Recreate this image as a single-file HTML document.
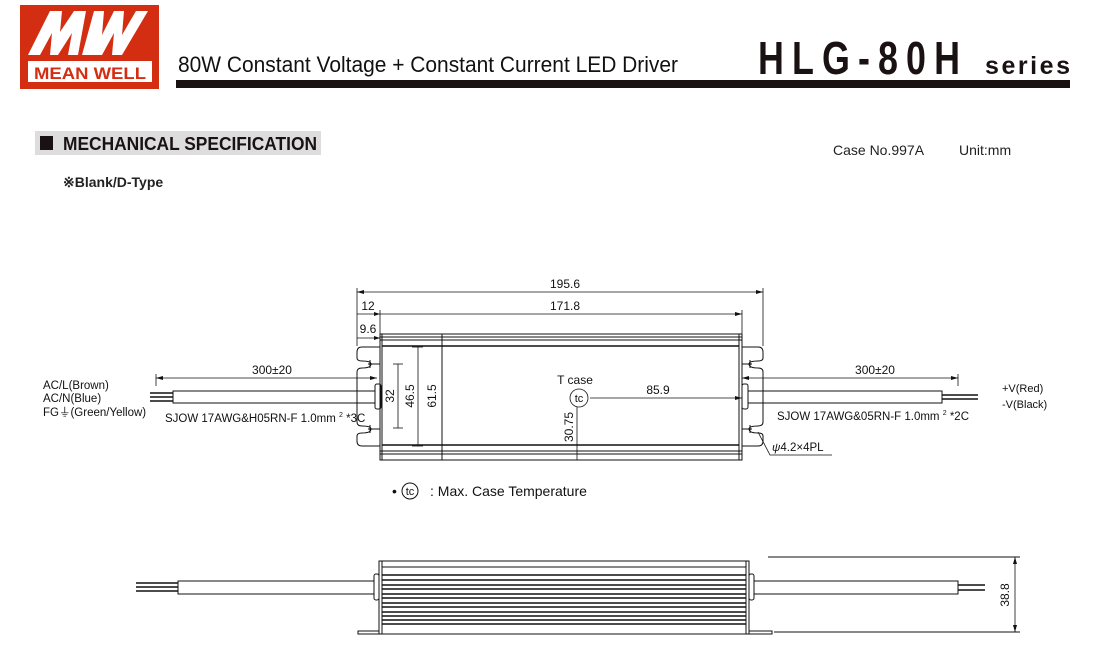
<!DOCTYPE html>
<html><head><meta charset="utf-8"><style>
html,body{margin:0;padding:0;background:#fff;}
svg{display:block;font-family:"Liberation Sans",sans-serif;}
</style></head><body>
<svg width="1100" height="655" viewBox="0 0 1100 655" xmlns="http://www.w3.org/2000/svg">
<!-- Logo -->
<rect x="20" y="5" width="139" height="84" fill="#d42e12"/>
<rect x="28" y="61" width="124" height="21" fill="#fff"/>
<text x="90" y="79" font-size="17" font-weight="bold" fill="#d42e12" text-anchor="middle" textLength="112" lengthAdjust="spacingAndGlyphs">MEAN WELL</text>
<path d="M28 55 L50 11 L62 11 L60 32 L74 11 L86 11 L78 55 L68 55 L72 33 L58 55 L50 55 L52 33 L40 55 Z" fill="#fff"/>
<path d="M82 55 L94 11 L104 11 L102 35 L114 11 L124 11 L122 35 L136 11 L148 11 L122 55 L112 55 L114 33 L102 55 L90 55 Z" fill="#fff"/>
<!-- Title -->
<text x="178" y="72" font-size="22" fill="#111" textLength="500" lengthAdjust="spacingAndGlyphs">80W Constant Voltage + Constant Current LED Driver</text>
<rect x="176" y="80" width="894" height="8" fill="#1a1212"/>
<text transform="translate(758,74) scale(0.78,1)" font-size="46" font-weight="bold" fill="#1a1212" textLength="259" lengthAdjust="spacing">HLG-80H</text>
<text x="985" y="74" font-size="25" font-weight="bold" fill="#1a1212" textLength="85" lengthAdjust="spacing">series</text>
<!-- Section header -->
<rect x="35" y="131" width="286" height="24" fill="#ddd"/>
<rect x="40" y="136" width="13" height="14" fill="#1a1212"/>
<text x="63" y="150" font-size="18" font-weight="bold" fill="#1a1212" textLength="254" lengthAdjust="spacingAndGlyphs">MECHANICAL SPECIFICATION</text>
<text x="833" y="155" font-size="14" fill="#222">Case No.997A</text>
<text x="959" y="155" font-size="14" fill="#222">Unit:mm</text>
<text x="63" y="187" font-size="14" font-weight="bold" fill="#222">※Blank/D-Type</text>

<g stroke="#111" fill="none" stroke-width="1">
<rect x="380" y="334" width="362" height="126"/>
<line x1="382" y1="334" x2="382" y2="460"/>
<line x1="739" y1="334" x2="739" y2="460"/>
<line x1="380" y1="337" x2="742" y2="337"/>
<line x1="380" y1="340" x2="742" y2="340"/>
<line x1="382" y1="346" x2="739" y2="346" stroke-width="1.5"/>
<line x1="382" y1="445" x2="739" y2="445" stroke-width="1.5"/>
<line x1="380" y1="451" x2="742" y2="451"/>
<line x1="380" y1="454" x2="742" y2="454"/>
<line x1="442" y1="334" x2="442" y2="460"/>
<path d="M380 347 L362 347 Q357 347 357 352 L357 358 Q357 361 362 361 Q371 361 371 364 Q371 368 362 368 Q357 368 357 372 L357 422 Q357 426 362 426 Q371 426 371 429 Q371 433 362 433 Q357 433 357 436 L357 441 Q357 446 362 446 L380 446"/>
<line x1="368" y1="364" x2="380" y2="364"/><line x1="370" y1="360" x2="370" y2="368"/>
<line x1="368" y1="429" x2="380" y2="429"/><line x1="370" y1="425" x2="370" y2="433"/>
<path d="M742 347 L758 347 Q763 347 763 352 L763 358 Q763 361 758 361 Q749 361 749 364 Q749 368 758 368 Q763 368 763 372 L763 422 Q763 426 758 426 Q749 426 749 429 Q749 433 758 433 Q763 433 763 436 L763 441 Q763 446 758 446 L742 446"/>
<line x1="742" y1="364" x2="752" y2="364"/><line x1="750" y1="360" x2="750" y2="368"/>
<line x1="742" y1="429" x2="752" y2="429"/><line x1="750" y1="425" x2="750" y2="433"/>
<rect x="375" y="384" width="6" height="25" rx="2"/>
<rect x="173" y="391" width="202" height="12"/>
<rect x="742" y="384" width="6" height="25" rx="2"/>
<rect x="748" y="391" width="194" height="12"/>
</g>
<g stroke="#111" stroke-width="1.5">
<line x1="150" y1="393" x2="173" y2="393"/><line x1="150" y1="397" x2="173" y2="397"/><line x1="150" y1="401" x2="173" y2="401"/>
<line x1="942" y1="395" x2="978" y2="395"/><line x1="942" y1="399" x2="978" y2="399"/>
</g>
<g stroke="#111" stroke-width="0.8" fill="none">
<line x1="357" y1="288" x2="357" y2="346"/>
<line x1="763" y1="288" x2="763" y2="346"/>
<line x1="380" y1="310" x2="380" y2="334"/>
<line x1="742" y1="310" x2="742" y2="334"/>
<line x1="357" y1="292" x2="763" y2="292"/>
<line x1="357" y1="314" x2="742" y2="314"/>
<line x1="357" y1="338" x2="380" y2="338"/>
<line x1="156" y1="374" x2="156" y2="386"/>
<line x1="156" y1="378" x2="377" y2="378"/>
<line x1="742" y1="378" x2="958" y2="378"/>
<line x1="958" y1="374" x2="958" y2="386"/>
<line x1="398" y1="364" x2="398" y2="428"/>
<line x1="393" y1="364" x2="403" y2="364"/><line x1="393" y1="428" x2="403" y2="428"/>
<line x1="418" y1="347" x2="418" y2="446"/>
<line x1="412" y1="347" x2="423" y2="347"/><line x1="412" y1="446" x2="423" y2="446"/>
<line x1="577" y1="407" x2="577" y2="460"/>
<line x1="590" y1="398" x2="742" y2="398"/>
<circle cx="579" cy="398" r="9"/>
<path d="M758 432 L770 455 L832 455"/>
</g>
<g fill="#111">
<path d="M357 292 l7 -2 v4z M763 292 l-7 -2 v4z M742 314 l-7 -2 v4z M380 314 l-6 -2 v4z M380 338 l-6 -2 v4z M156 378 l7 -2 v4z M377 378 l-7 -2 v4z M742 378 l7 -2 v4z M958 378 l-7 -2 v4z M742 398 l-7 -2 v4z"/>
</g>
<g font-size="12" fill="#111">
<text x="565" y="288" text-anchor="middle">195.6</text>
<text x="565" y="310" text-anchor="middle">171.8</text>
<text x="368" y="310" text-anchor="middle">12</text>
<text x="368" y="333" text-anchor="middle">9.6</text>
<text x="272" y="374" text-anchor="middle">300±20</text>
<text x="875" y="374" text-anchor="middle">300±20</text>
<text x="658" y="394" text-anchor="middle">85.9</text>
<text x="575" y="384" text-anchor="middle">T case</text>
<text x="579" y="402" text-anchor="middle" font-size="11">tc</text>
<text transform="translate(394,396) rotate(-90)" text-anchor="middle">32</text>
<text transform="translate(414,396) rotate(-90)" text-anchor="middle">46.5</text>
<text transform="translate(436,396) rotate(-90)" text-anchor="middle">61.5</text>
<text transform="translate(573,427) rotate(-90)" text-anchor="middle">30.75</text>
<text x="165" y="422" font-size="11.5">SJOW 17AWG&amp;H05RN-F 1.0mm <tspan font-size="7" dy="-5">2</tspan><tspan dy="5"> *3C</tspan></text>
<text x="777" y="420" font-size="11.5">SJOW 17AWG&amp;05RN-F 1.0mm <tspan font-size="7" dy="-5">2</tspan><tspan dy="5"> *2C</tspan></text>
<text x="772" y="451" font-size="11.5"><tspan font-style="italic">ψ</tspan>4.2×4PL</text>
<text x="43" y="389" font-size="11.5">AC/L(Brown)</text>
<text x="43" y="402" font-size="11.5">AC/N(Blue)</text>
<text x="43" y="416" font-size="11.5">FG⏚(Green/Yellow)</text>
<text x="1002" y="392" font-size="11">+V(Red)</text>
<text x="1002" y="408" font-size="11">-V(Black)</text>
<text x="392" y="496" font-size="14">•</text>
<text x="430" y="496" font-size="14">: Max. Case Temperature</text>
<text x="410" y="495" font-size="11" text-anchor="middle">tc</text>
</g>
<circle cx="410" cy="491" r="8" fill="none" stroke="#111"/>

<g stroke="#111" fill="none" stroke-width="1">
<rect x="379" y="561" width="370" height="73"/>
<line x1="382" y1="561" x2="382" y2="634"/>
<line x1="746" y1="561" x2="746" y2="634"/>
<line x1="382" y1="567" x2="746" y2="567"/>
<path d="M379 631 H358 V634 H379 M749 631 H772 V634 H749"/>
<rect x="374" y="574" width="5" height="26" rx="2"/>
<rect x="749" y="574" width="5" height="26" rx="2"/>
<rect x="178" y="581" width="196" height="13"/>
<rect x="754" y="581" width="204" height="13"/>
<line x1="768" y1="557" x2="1020" y2="557"/>
<line x1="774" y1="632" x2="1020" y2="632"/>
<line x1="1015" y1="557" x2="1015" y2="632" stroke-width="0.8"/>
</g>
<g stroke="#111" stroke-width="1.6">
<line x1="382" y1="575" x2="746" y2="575"/><line x1="382" y1="580" x2="746" y2="580"/>
<line x1="382" y1="585" x2="746" y2="585"/><line x1="382" y1="589" x2="746" y2="589"/>
<line x1="382" y1="594" x2="746" y2="594"/><line x1="382" y1="598" x2="746" y2="598"/>
<line x1="382" y1="603" x2="746" y2="603"/><line x1="382" y1="607" x2="746" y2="607"/>
<line x1="382" y1="612" x2="746" y2="612"/><line x1="382" y1="616" x2="746" y2="616"/>
<line x1="382" y1="620" x2="746" y2="620"/><line x1="382" y1="624" x2="746" y2="624"/>
<line x1="136" y1="583" x2="178" y2="583"/><line x1="136" y1="587" x2="178" y2="587"/><line x1="136" y1="591" x2="178" y2="591"/>
<line x1="958" y1="585" x2="985" y2="585"/><line x1="958" y1="590" x2="985" y2="590"/>
</g>
<path d="M1015 557 l-2 7 h4z M1015 632 l-2 -7 h4z" fill="#111"/>
<text transform="translate(1009,595) rotate(-90)" font-size="12" text-anchor="middle" fill="#111">38.8</text>
</svg>
</body></html>
